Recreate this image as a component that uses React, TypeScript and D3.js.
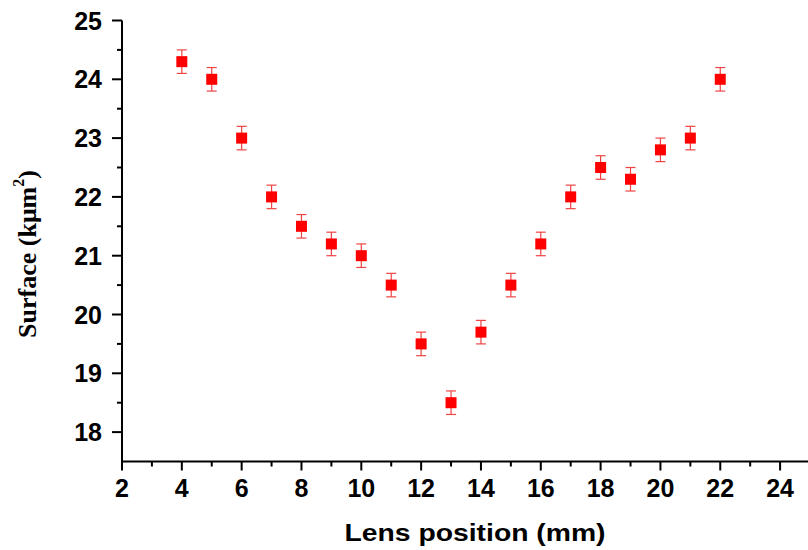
import React from "react";
import * as d3 from "d3";

const lensPositions = [4, 5, 6, 7, 8, 9, 10, 11, 12, 13, 14, 15, 16, 17, 18, 19, 20, 21, 22];
const surfaceValues = [24.3, 24.0, 23.0, 22.0, 21.5, 21.2, 21.0, 20.5, 19.5, 18.5, 19.7, 20.5, 21.2, 22.0, 22.5, 22.3, 22.8, 23.0, 24.0];
const surfaceErrors = [0.2, 0.2, 0.2, 0.2, 0.2, 0.2, 0.2, 0.2, 0.2, 0.2, 0.2, 0.2, 0.2, 0.2, 0.2, 0.2, 0.2, 0.2, 0.2];
const xMajorTicks = [2, 4, 6, 8, 10, 12, 14, 16, 18, 20, 22, 24];
const xMinorTicks = [3, 5, 7, 9, 11, 13, 15, 17, 19, 21, 23];
const yMajorTicks = [18, 19, 20, 21, 22, 23, 24, 25];
const yMinorTicks = [18.5, 19.5, 20.5, 21.5, 22.5, 23.5, 24.5];

export default function App() {
  const W = 808, H = 550;
  const x = d3.scaleLinear().domain([2, 25]).range([122, 810]);
  const y = d3.scaleLinear().domain([17.5, 25]).range([461.5, 20.5]);
  const axisFont = "'Liberation Sans', Arial, sans-serif";
  const ms = 11;
  const cap = 5;
  return (
    <svg width={W} height={H} style={{ position: "absolute", left: 0, top: 0, background: "#fff" }}>
      {lensPositions.map((lp, i) => {
        const cx = x(lp);
        const yt = y(surfaceValues[i] + surfaceErrors[i]);
        const yb = y(surfaceValues[i] - surfaceErrors[i]);
        return (
          <g key={"e" + i} stroke="#ee4444" strokeWidth={1.2} fill="none">
            <line x1={cx} x2={cx} y1={yt} y2={yb} />
            <line x1={cx - cap} x2={cx + cap} y1={yt} y2={yt} />
            <line x1={cx - cap} x2={cx + cap} y1={yb} y2={yb} />
          </g>
        );
      })}
      {lensPositions.map((lp, i) => (
        <rect key={"m" + i} x={x(lp) - ms / 2} y={y(surfaceValues[i]) - ms / 2} width={ms} height={ms} fill="#ff0000" />
      ))}
      <g stroke="#000" strokeWidth={2}>
        <line x1={x(2)} x2={W} y1={y(17.5)} y2={y(17.5)} />
        <line x1={x(2)} x2={x(2)} y1={y(17.5) + 1} y2={y(25)} />
        {xMajorTicks.map((t) => (
          <line key={"xt" + t} x1={x(t)} x2={x(t)} y1={y(17.5)} y2={y(17.5) + 9} />
        ))}
        {xMinorTicks.map((t) => (
          <line key={"xm" + t} x1={x(t)} x2={x(t)} y1={y(17.5)} y2={y(17.5) + 5} />
        ))}
        {yMajorTicks.map((t) => (
          <line key={"yt" + t} x1={x(2) - 10} x2={x(2)} y1={y(t)} y2={y(t)} />
        ))}
        {yMinorTicks.map((t) => (
          <line key={"ym" + t} x1={x(2) - 5} x2={x(2)} y1={y(t)} y2={y(t)} />
        ))}
      </g>
      <g fontFamily={axisFont} fontWeight="bold" fontSize={25} fill="#000">
        {xMajorTicks.map((t) => (
          <text key={"xl" + t} x={x(t)} y={y(17.5) + 35} textAnchor="middle">{t}</text>
        ))}
        {yMajorTicks.map((t) => (
          <text key={"yl" + t} x={x(2) - 20} y={y(t) + 9} textAnchor="end">{t}</text>
        ))}
        <text
          transform="translate(475, 541) scale(1.18, 1)"
          textAnchor="middle"
          fontSize={24}
        >
          Lens position (mm)
        </text>
      </g>
      <text
        transform={`translate(36, 254) rotate(-90)`}
        textAnchor="middle"
        fontFamily="'Liberation Serif', 'Times New Roman', serif"
        fontWeight="bold"
        fontSize={26}
        fill="#000"
      >
        Surface (kμm<tspan dy={-12} fontSize={16}>2</tspan><tspan dy={12}>)</tspan>
      </text>
    </svg>
  );
}
